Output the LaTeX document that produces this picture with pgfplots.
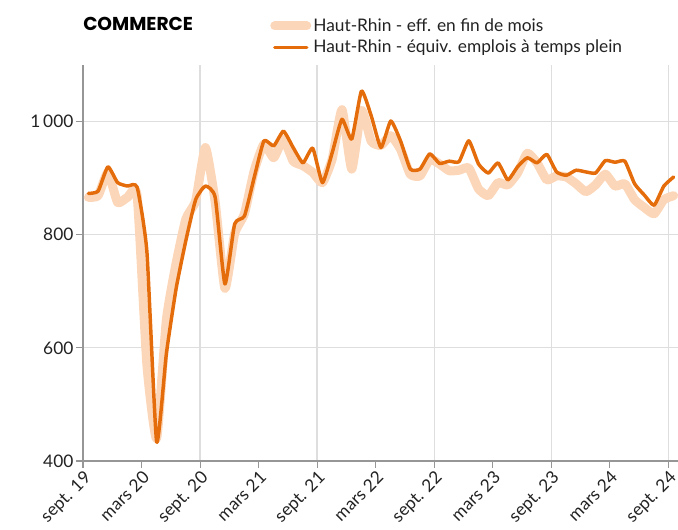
\documentclass[border=0pt]{standalone}
\usepackage{fontspec}
\setmainfont{Lato}
\newfontfamily\titlefont{Poppins}
\usepackage{pgfplots}
\usepackage{pgfplotstable}
\pgfplotsset{compat=1.18}
\definecolor{etp}{RGB}{228,108,10}
\definecolor{eff}{RGB}{252,214,184}
\definecolor{gridc}{RGB}{222,222,222}
\definecolor{axc}{RGB}{150,150,150}
\definecolor{txt}{RGB}{34,34,34}

\pgfplotstableread{
i eff etp
0 866 873
1 869 877
2 910 920
3 857 892
4 866 886
5 869 884
6 570 770
7 440 434
8 650 590
9 750 705
10 828 790
11 860 862
12 954 886
13 858 866
14 705 713
15 802 819
16 837 833
17 913 901
18 960 966
19 936 957
20 969 983
21 930 954
22 922 927
23 910 953
24 892 892
25 934 945
26 1021 1004
27 916 969
28 1020 1054
29 965 1010
30 958 954
31 975 1001
32 951 966
33 907 916
34 904 916
35 933 943
36 925 926
37 913 930
38 914 929
39 918 966
40 881 925
41 869 909
42 892 927
43 888 897
44 909 920
45 944 936
46 927 927
47 897 942
48 904 911
49 902 905
50 890 914
51 876 911
52 888 909
53 907 931
54 886 928
55 890 930
56 862 890
57 848 870
58 837 852
59 862 886
60 869 902
}\datatable

\begin{document}
\begin{tikzpicture}
\begin{axis}[
  scale only axis,
  width=446.25pt, height=297pt,
  xmin=-0.55, xmax=60.45, ymin=400, ymax=1100,
  axis x line*=bottom, axis y line*=left,
  axis line style={axc, line width=0.9pt},
  xtick={-0.55,5.45,11.45,17.45,23.45,29.45,35.45,41.45,47.45,53.45,59.45},
  xticklabels={sept. 19,mars 20,sept. 20,mars 21,sept. 21,mars 22,sept. 22,mars 23,sept. 23,mars 24,sept. 24},
  ytick={400,600,800,1000},
  yticklabels={400,600,800,1\,000},
  ymajorgrids,
  major grid style={gridc, line width=0.9pt},
  minor xtick={11.45,23.45,35.45,47.45,59.45},
  xminorgrids,
  minor grid style={gridc, line width=0.9pt},
  minor tick length=0pt,
  tick align=outside,
  major tick length=5pt,
  tick style={axc, line width=0.8pt},
  every tick label/.append style={font=\fontsize{13}{15}\selectfont, text=txt},
  xticklabel style={rotate=45, anchor=north east, inner sep=1pt},
  yticklabel style={inner sep=2pt},
  legend style={at={(0.3143,1.02)}, anchor=south west, draw=none, fill=none,
    inner sep=0pt, row sep=2pt, font=\fontsize{13}{15}\selectfont, text=txt,
    nodes={inner sep=1.5pt}},
  legend cell align=left,
  legend image code/.code={\draw[#1] (0pt,0pt) -- (24pt,0pt);},
]
\addplot[eff, line width=6.75pt, line cap=round, line join=round, smooth, tension=0.3] table[x=i, y=eff] {\datatable};
\addlegendentry{Haut-Rhin - eff. en fin de mois}
\addplot[etp, line width=2.6pt, line cap=round, line join=round, smooth, tension=0.3] table[x=i, y=etp] {\datatable};
\addlegendentry{Haut-Rhin - équiv. emplois à temps plein}
\coordinate (SW) at (rel axis cs:0,0);
\coordinate (NE) at (rel axis cs:1,1);
\end{axis}
\node[anchor=base west, inner sep=0pt, font=\titlefont\bfseries\fontsize{14}{16}\selectfont] at ([yshift=26pt]SW |- NE) {COMMERCE};
\pgfresetboundingbox
\path[use as bounding box] ([xshift=-62.25pt,yshift=-51.75pt]SW) rectangle ([yshift=48.75pt]NE);
\end{tikzpicture}
\end{document}
